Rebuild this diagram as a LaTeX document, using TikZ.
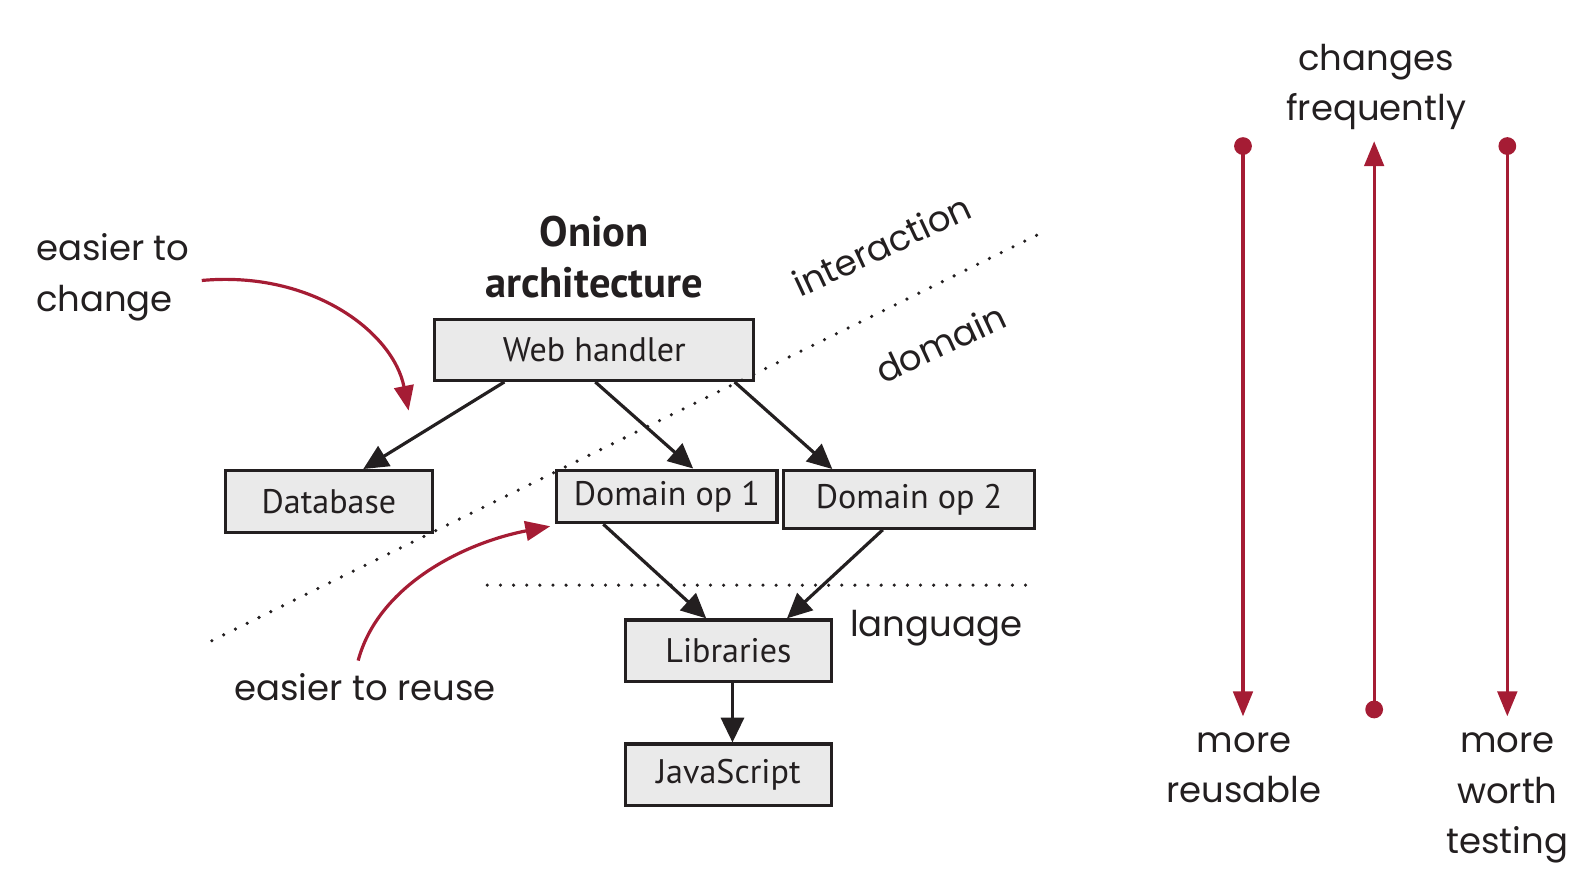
\documentclass[tikz,border=0pt]{standalone}
\usepackage{fontspec}
\setmainfont{PT Sans}
\newfontfamily\handfont{Poppins}
\usetikzlibrary{arrows.meta}
\definecolor{onionred}{RGB}{165,28,52}
\definecolor{boxgray}{RGB}{234,234,234}
\definecolor{ink}{RGB}{35,31,32}
\tikzset{
  box/.style={draw=ink,fill=boxgray,line width=0.9pt,inner sep=0pt,text=ink,
    font=\fontsize{9.6}{11}\selectfont},
  dep/.style={-{Triangle[length=7pt,width=6.5pt]},line width=0.9pt,ink},
  hand/.style={font=\handfont\fontsize{10}{14.2}\selectfont,text=ink,inner sep=0pt},
  redline/.style={line width=0.9pt,onionred},
  layer/.style={dash pattern=on 0pt off 3.7pt,line cap=round,line width=1pt,ink},
}
\begin{document}
\begin{tikzpicture}[x=0.01cm,y=-0.01cm]
        \useasboundingbox (0,0) rectangle (1568,868) ;
        % boxes
        \node[box,minimum width=3.16cm,minimum height=0.60cm] (web) at (589,347) {Web handler} ;
        \node[box,minimum width=2.05cm,minimum height=0.61cm] (db) at (326,497) {Database} ;
        \node[box,minimum width=2.18cm,minimum height=0.52cm] (op1) at (661,492) {Domain op 1} ;
        \node[box,minimum width=2.49cm,minimum height=0.57cm] (op2) at (901,495) {Domain op 2} ;
        \node[box,minimum width=2.04cm,minimum height=0.61cm] (lib) at (722,645) {Libraries} ;
        \node[box,minimum width=2.04cm,minimum height=0.61cm] (js) at (722,768) {JavaScript} ;
        \node[align=center,text=ink,font=\bfseries\fontsize{12}{14.2}\selectfont] (title) at (589,255) {Onion\\architecture} ;
        % layers
        \coordinate (diagA) at (210,635) ;
        \coordinate (diagB) at (1030,232) ;
        \coordinate (horA) at (483,580) ;
        \coordinate (horB) at (1026,580) ;
        \draw[layer] (diagA) -- (diagB) ;
        \draw[layer] (horA) -- (horB) ;
        \node[hand,rotate=25] (inter) at (874,243) {interaction} ;
        \node[hand,rotate=25] (dom) at (932,340) {domain} ;
        \node[hand] (lang) at (928,623) {language} ;
        % dependencies
        \draw[dep] ([xshift=-0.89cm]web.south) -- ([xshift=0.34cm]db.north) ;
        \draw[dep] ([xshift=0.01cm]web.south) -- ([xshift=0.26cm]op1.north) ;
        \draw[dep] ([xshift=1.39cm]web.south) -- ([xshift=-0.76cm]op2.north) ;
        \draw[dep] ([xshift=-0.63cm]op1.south) -- ([xshift=-0.22cm]lib.north) ;
        \draw[dep] ([xshift=-0.26cm]op2.south) -- ([xshift=0.58cm]lib.north) ;
        \draw[dep] ([xshift=0.04cm]lib.south) -- ([xshift=0.04cm]js.north) ;
        % easier to ...
        \node[hand,align=left,anchor=west] (change) at (35,275) {easier to\\change} ;
        \node[hand] (reuse) at (362,681) {easier to reuse} ;
        \coordinate (changetip) at (405,407) ;
        \draw[redline,-{Triangle[length=7pt,width=5.5pt]}] (200,278)
          .. controls (310,268) and (390,330) .. (changetip) ;
        \draw[redline,-{Triangle[length=7pt,width=5.5pt]}] ([xshift=-0.07cm,yshift=0.12cm]reuse.north)
          .. controls (375,580) and (460,538) .. ([xshift=-0.05cm,yshift=-0.02cm]op1.south west) ;
        % right hand scale
        \coordinate (reusetop) at (1232,136) ;
        \coordinate (reusetip) at (1232,710) ;
        \coordinate (freqbot) at (1362,712) ;
        \coordinate (freqtip) at (1362,140) ;
        \coordinate (worthtop) at (1494,136) ;
        \coordinate (worthtip) at (1494,710) ;
        \draw[redline,{Circle[length=5pt]}-{Triangle[length=7pt,width=5.5pt]}] (reusetop) -- (reusetip) ;
        \draw[redline,{Circle[length=5pt]}-{Triangle[length=7pt,width=5.5pt]}] (freqbot) -- (freqtip) ;
        \draw[redline,{Circle[length=5pt]}-{Triangle[length=7pt,width=5.5pt]}] (worthtop) -- (worthtip) ;
        \node[hand,align=center] (reusable) at (1233,761) {more\\reusable} ;
        \node[hand,align=center] (frequent) at (1364,86) {changes\\frequently} ;
        \node[hand,align=center] (worth) at (1494,791) {more\\worth\\testing} ;
\end{tikzpicture}
\end{document}
